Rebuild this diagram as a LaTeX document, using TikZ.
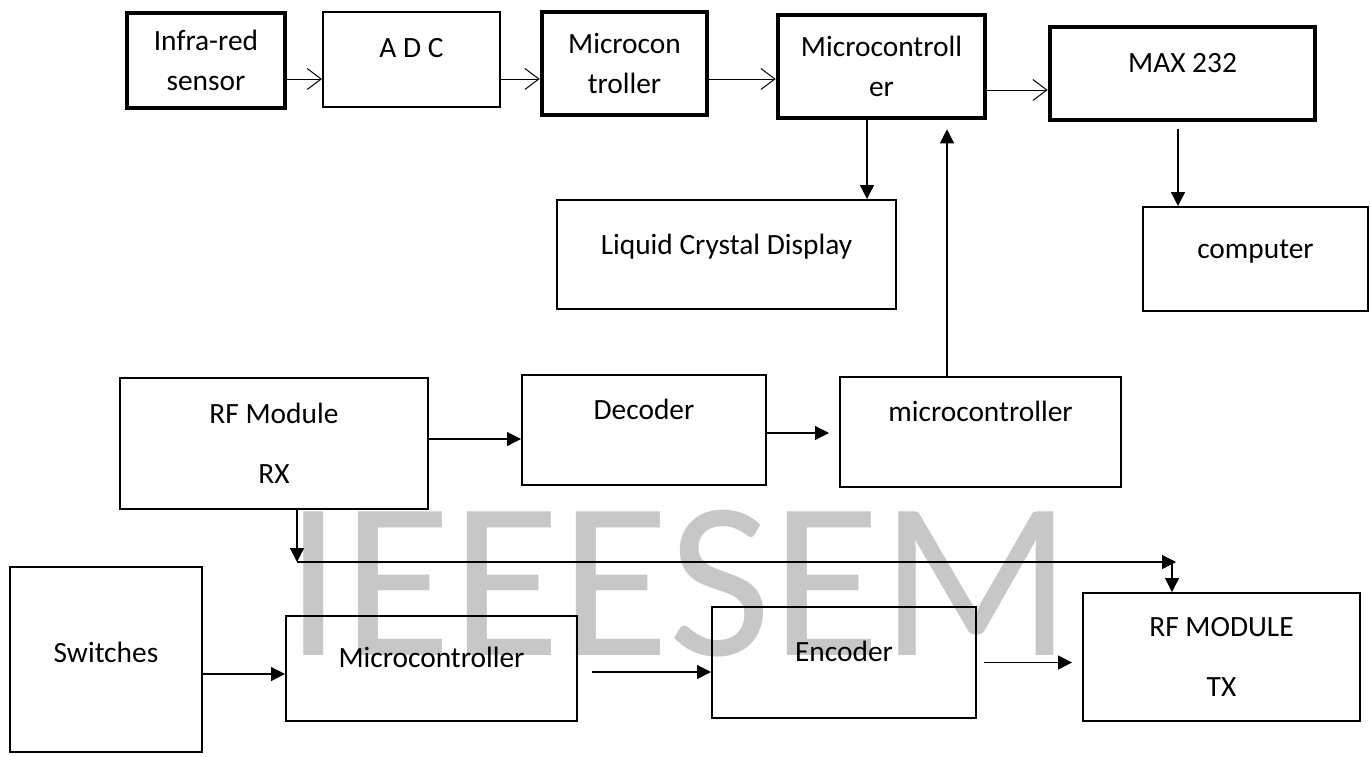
\documentclass[tikz,border=0pt]{standalone}
\usepackage{fontspec}
\setmainfont{Carlito}
\usetikzlibrary{arrows.meta, positioning, calc}

\begin{document}
\begin{tikzpicture}[
        x=0.5pt, y=-0.5pt,
        blk/.style={draw, line width=1pt, inner sep=0pt, align=center, font=\fontsize{14.7}{20}\selectfont},
        thickblk/.style={blk, line width=2.3pt},
        lift/.style={text height=9.4pt, text depth=#1pt},
        barb/.style={-{Straight Barb[length=7pt, width=10.5pt]}, line width=0.5pt},
        farr/.style={-{Triangle[length=7pt, width=7pt]}, line width=0.65pt},
        wmark/.style={text=black!22, font=\fontsize{112}{112}\selectfont, inner sep=0pt, anchor=base}
    ]
        \useasboundingbox (0,0) rectangle (1370,756);
        \node[wmark] (wm) at (679,655) {IEEESEM};

        \node[thickblk, minimum width=79pt, minimum height=47.5pt] (ir) at (206,60.5) {Infra-red\\sensor};
        \node[blk, lift=11.5, minimum width=88.5pt, minimum height=47.5pt] (adc) at (411.5,59.5) {A D C};
        \node[thickblk, minimum width=82.5pt, minimum height=51.5pt] (mca) at (624.5,63.5) {Microcon\\troller};
        \node[thickblk, minimum width=103.5pt, minimum height=51.5pt] (mcb) at (881.5,66.5) {Microcontroll\\er};
        \node[thickblk, lift=10.5, minimum width=132.5pt, minimum height=46.5pt] (max) at (1182.5,73.5) {MAX 232};
        \node[blk, lift=9.5, minimum width=169.5pt, minimum height=54.5pt] (lcd) at (726.5,254.5) {Liquid Crystal Display};
        \node[blk, lift=10, minimum width=112.5pt, minimum height=52pt] (pc) at (1255.5,259) {computer};

        \node[blk, minimum width=154pt, minimum height=65.5pt] (rx) at (274,443.5) {RF Module\\[10pt]RX};
        \node[blk, lift=20, minimum width=122pt, minimum height=55pt] (dec) at (644,430) {Decoder};
        \node[blk, lift=20, minimum width=140.5pt, minimum height=55pt] (mcc) at (980.5,432) {microcontroller};

        \node[blk, lift=6.5, minimum width=96pt, minimum height=92.5pt] (sw) at (106,659.5) {Switches};
        \node[blk, lift=10.5, minimum width=145.5pt, minimum height=52.5pt] (mcd) at (431.5,668.5) {Microcontroller};
        \node[blk, lift=10.5, minimum width=132pt, minimum height=55.5pt] (enc) at (844,662.5) {Encoder};
        \node[blk, minimum width=138.5pt, minimum height=64pt] (tx) at (1221.5,657) {RF MODULE\\[10pt]TX};

        \coordinate (busl) at (297,562);
        \coordinate (busr) at (1176,562);

        \draw[barb] ([yshift=-9.25pt]ir.east) -- ([yshift=-9.25pt]ir.east -| adc.west);
        \draw[barb] ([yshift=-9.75pt]adc.east) -- ([yshift=-9.75pt]adc.east -| mca.west);
        \draw[barb] ([yshift=-7.75pt]mca.east) -- ([yshift=-7.75pt]mca.east -| mcb.west);
        \draw[barb] ([yshift=-11.75pt]mcb.east) -- ([yshift=-11.75pt]mcb.east -| max.west);

        \draw[farr] ([xshift=-7.25pt]mcb.south) -- ([xshift=-7.25pt]mcb.south |- lcd.north);
        \draw[farr, shorten >=4.5pt] ([xshift=-16.75pt]mcc.north) -- ([xshift=-16.75pt]mcc.north |- mcb.south);
        \draw[farr, shorten <=3.5pt] ([xshift=-2.25pt]max.south) -- ([xshift=-2.25pt]max.south |- pc.north);

        \draw[farr] ([yshift=2.25pt]rx.east) -- ([yshift=2.25pt]rx.east -| dec.west);
        \draw[farr, shorten >=5pt] ([yshift=-1.5pt]dec.east) -- ([yshift=-1.5pt]dec.east -| mcc.west);

        \draw[farr] ([xshift=11.5pt]rx.south) -- (busl);
        \draw[farr] (busl) -- (busr);
        \draw[farr] ([xshift=-24.75pt]tx.north |- busr) -- ([xshift=-24.75pt]tx.north);

        \draw[farr] ([yshift=-7.25pt]sw.east) -- ([yshift=-7.25pt]sw.east -| mcd.west);
        \draw[farr, shorten <=7pt] ([yshift=-1.75pt]mcd.east) -- ([yshift=-1.75pt]mcd.east -| enc.west);
        \draw[farr, shorten <=3.5pt, shorten >=5pt] (enc.east) -- (enc.east -| tx.west);
    \end{tikzpicture}
\end{document}
